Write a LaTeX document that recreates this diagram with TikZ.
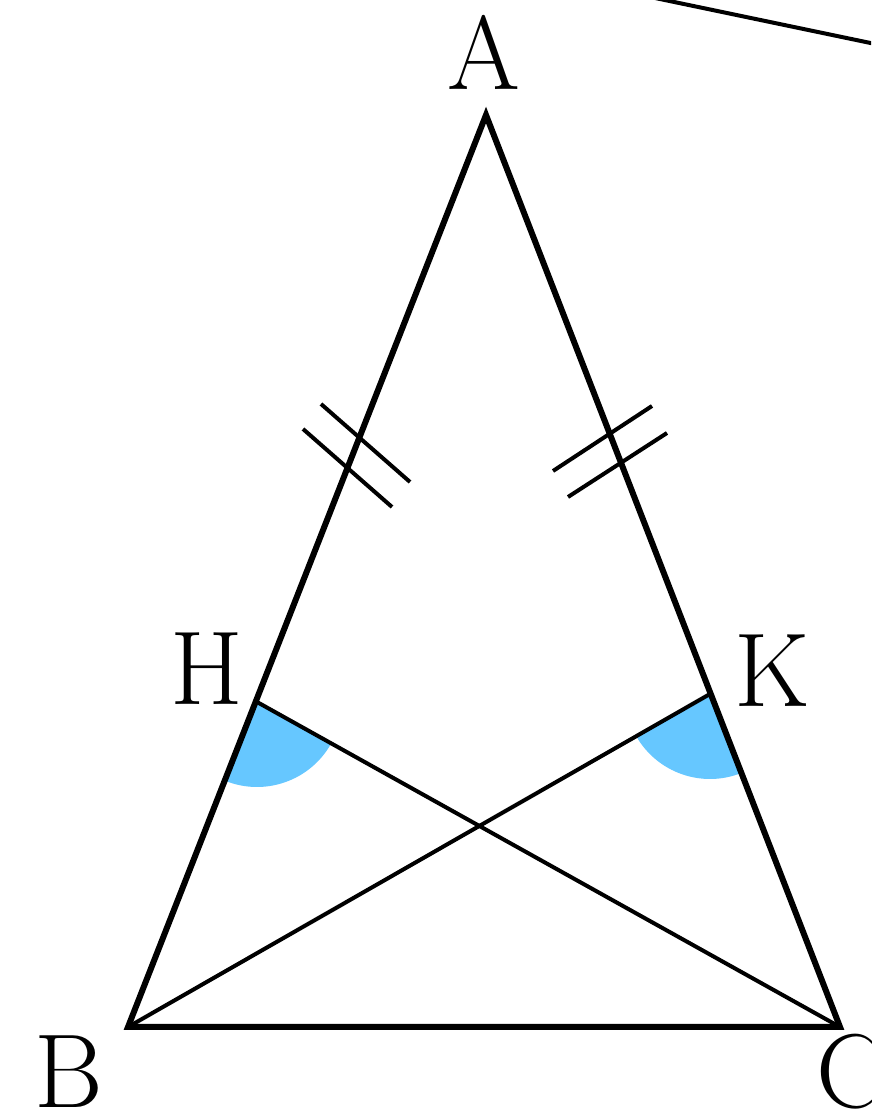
\documentclass[tikz,border=0pt]{standalone}
\usetikzlibrary{angles,quotes}
\definecolor{anglefill}{RGB}{102,199,255}
\begin{document}
\begin{tikzpicture}[x=1pt,y=1pt,
  side/.style={line width=6pt,line join=miter},
  cevian/.style={line width=4pt},
  tick/.style={line width=4pt},
  lab/.style={anchor=base,inner sep=0pt,font=\fontsize{105}{110}\selectfont}]
\useasboundingbox (0,0) rectangle (871,1115);
\clip (0,0) rectangle (871,1115);
\coordinate (A) at (486,1000);
\coordinate (B) at (128,88);
\coordinate (C) at (840,88);
\coordinate (H) at (257,413);
\coordinate (K) at (710,421);
\coordinate (s1) at (655,1117);
\coordinate (s2) at (880,1070);
% angle sectors
\pic[fill=anglefill,angle radius=85pt] {angle=B--H--C};
\pic[fill=anglefill,angle radius=85pt] {angle=B--K--C};
% cevians
\draw[cevian] (H) -- (C);
\draw[cevian] (K) -- (B);
% triangle
\draw[side] (A) -- (B) -- (C) -- cycle;
% equal-length ticks
\draw[tick] (321,711) -- (410,633);
\draw[tick] (303,686) -- (392,608);
\draw[tick] (553,644) -- (652,709);
\draw[tick] (568,618) -- (667,682);
% stray line
\draw[cevian] (s1) -- (s2);
% labels
\node[lab] (lA) at (484,1025) {A};
\node[lab] (lH) at (207,410) {H};
\node[lab] (lK) at (772,408) {K};
\node[lab] (lB) at (69,8) {B};
\node[lab,anchor=base west] (lC) at (816,8) {C};
\end{tikzpicture}
\end{document}
